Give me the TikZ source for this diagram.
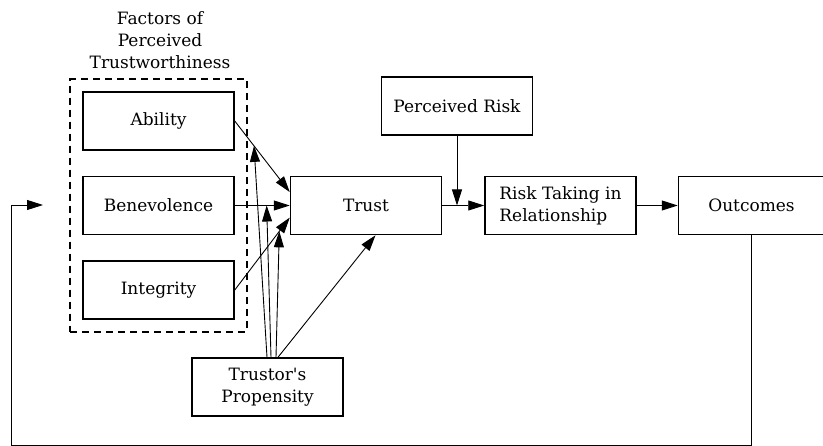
\documentclass[tikz,border=0pt]{standalone}
\usepackage{fontspec}
\setmainfont{DejaVu Serif}
\usepackage{tikz}
\usetikzlibrary{positioning, arrows.meta, fit, calc}
\tikzstyle{box}=[%
      rectangle, draw=black, line width=1.5pt, fill=none,
      align=center, minimum height=58pt, minimum width=151pt, inner sep=4pt
]
\tikzstyle{grp}=[%
      rectangle, draw=black, line width=1.6pt, dash pattern=on 7pt off 5pt,
      fill=none, inner sep=12pt
]

\begin{document}
\begin{tikzpicture}[x=1pt, y=-1pt,
    font=\fontsize{17}{22}\selectfont,
    line width=0.9pt,
    ->,
    -{Triangle[length=16pt,width=10pt]}
  ]
    \useasboundingbox (0,0) rectangle (823,446);

    \node[box]              (abil) at (158.5,121)    {Ability};
    \node[box]              (bene) [below=25pt of abil] {Benevolence};
    \node[box]              (inte) [below=25pt of bene] {Integrity};
    \node[grp, fit=(abil)(bene)(inte)] (fac) {};
    \node[align=center]     (ftit) at (160,40) {Factors of\\Perceived\\Trustworthiness};

    \node[box]              (trus) [right=55pt of bene] {Trust};
    \node[box, align=left]  (risk) [right=42pt of trus] {Risk Taking in\\Relationship};
    \node[box, minimum width=146pt] (outc) [right=41pt of risk] {Outcomes};
    \node[box]              (prisk) at (457,106)   {Perceived Risk};
    \node[box]              (prop) at (267.5,387)  {Trustor\textquotesingle s\\Propensity};

    \coordinate (join) at (prisk.south |- trus.east);
    \coordinate (back) at (43,205);

    \path (abil.east) edge node[coordinate, pos=.35] (m1) {} (trus.170)
          (bene.east) edge node[coordinate, pos=.58] (m2) {} (trus.west)
          (inte.east) edge node[coordinate, pos=.81] (m3) {} (trus.189)
          ([xshift=-0.5pt]prop.north) edge (m1)
          ([xshift=3.5pt]prop.north) edge (m2)
          ([xshift=8.5pt]prop.north) edge (m3)
          ([xshift=10.5pt]prop.north) edge ([xshift=9.5pt]trus.south)
          (prisk.south) edge (join)
          (trus.east) edge (risk.west)
          (risk.east) edge (outc.west)
    ;

    % feedback from outcomes
    \draw (outc.south) -- ++(0,210) -| ([xshift=-32pt]back) -- (back);

\end{tikzpicture}
\end{document}
